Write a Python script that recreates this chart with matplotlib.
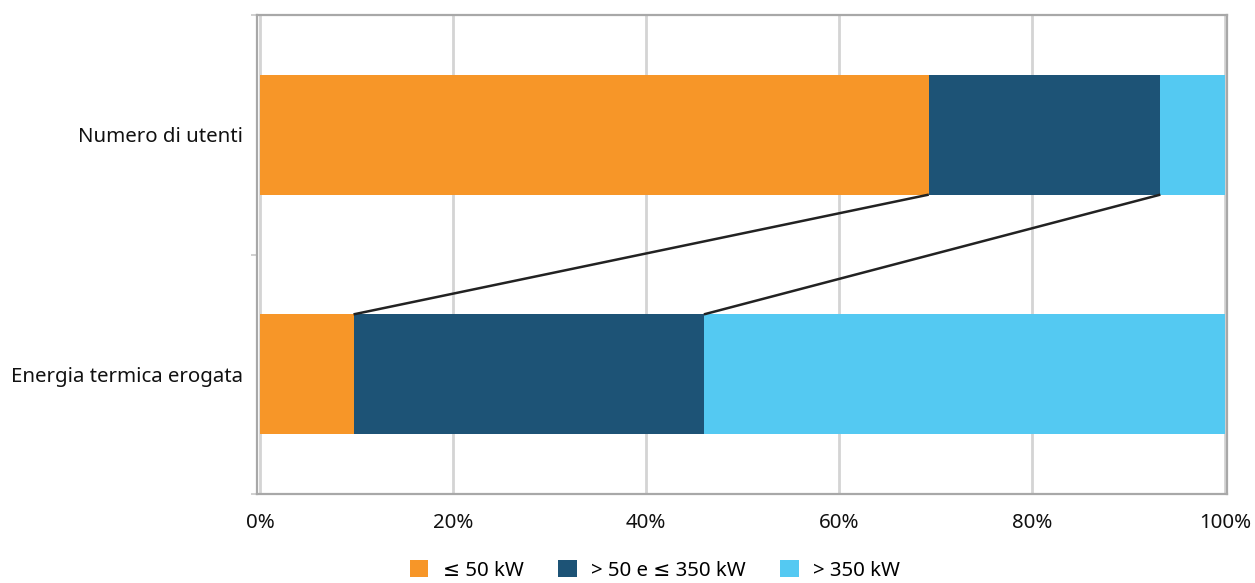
import numpy as np
import matplotlib.pyplot as plt
from matplotlib.ticker import FuncFormatter

plt.rcParams['font.family'] = ['Noto Sans', 'DejaVu Sans']

# dati
categorie = ['Energia termica erogata', 'Numero di utenti']
classi = ['≤ 50 kW', '> 50 e ≤ 350 kW', '> 350 kW']
quote_utenti = [69.3, 24.0, 6.7]
quote_energia = [9.7, 36.3, 54.0]
colori = ['#F79628', '#1D5376', '#54C9F2']

valori = np.array([quote_energia, quote_utenti]) / 100.0

fig = plt.figure(figsize=(12.55, 5.83), dpi=100)
ax = fig.add_axes([257 / 1255, 1 - 494 / 583, 970 / 1255, 479 / 583])

y = np.arange(len(categorie))
h = 0.5
sinistra = np.zeros(len(categorie))
for i, nome in enumerate(classi):
    ax.barh(y, valori[:, i], left=sinistra, height=h, color=colori[i],
            label=nome, zorder=2)
    sinistra += valori[:, i]

# linee di collegamento tra le due barre
cum_utenti = np.cumsum(valori[1])
cum_energia = np.cumsum(valori[0])
for k in range(2):
    ax.plot([cum_utenti[k], cum_energia[k]], [y[1] - h / 2, y[0] + h / 2],
            color='#222222', lw=1.8, zorder=3, solid_capstyle='butt')

ax.set_xlim(-0.003, 1.002)
ax.set_ylim(-0.5, 1.5)
ax.set_xticks(np.arange(0, 1.01, 0.2))
ax.xaxis.set_major_formatter(FuncFormatter(lambda v, p: f'{v * 100:.0f}%'))
ax.set_yticks(y)
ax.set_yticklabels(categorie)
ax.set_yticks([-0.5, 0.5, 1.5], minor=True)

ax.grid(axis='x', color='#d4d4d4', lw=2, zorder=0)
ax.set_axisbelow(True)
for s in ax.spines.values():
    s.set_color('#a8a8a8')
    s.set_linewidth(1.6)

fs = 14.7
ax.tick_params(axis='x', length=0, pad=14, labelsize=fs, colors='#111111')
ax.tick_params(axis='y', which='major', length=0, pad=10, labelsize=fs,
               colors='#111111')
ax.tick_params(axis='y', which='minor', length=4, color='#c8c8c8', width=1.2)

fig.legend(loc='lower center', bbox_to_anchor=(0.522, -0.028), ncol=3,
           frameon=False, fontsize=fs, handlelength=0.9, handleheight=0.9,
           handletextpad=0.7, columnspacing=1.7)

fig.savefig('out.png', dpi=100)
